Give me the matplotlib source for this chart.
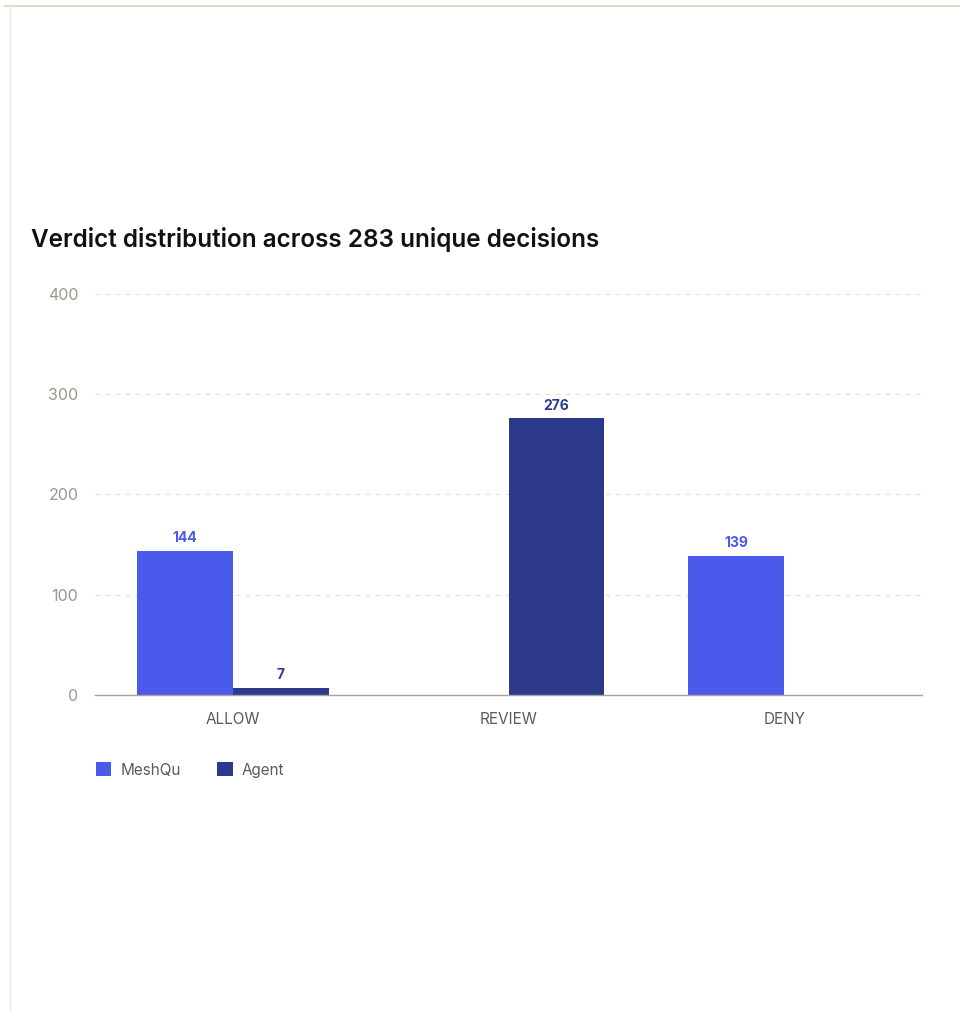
import matplotlib
matplotlib.use("Agg")
import matplotlib.pyplot as plt
from matplotlib.lines import Line2D
from matplotlib.patches import Patch
import numpy as np

plt.rcParams['font.family'] = ['Inter', 'DejaVu Sans']

categories = ['ALLOW', 'REVIEW', 'DENY']
meshqu = [144, 0, 139]
agent = [7, 276, 0]
series_names = ['MeshQu', 'Agent']
colors = ['#4a5bec', '#2d3a8c']
yticks = [0, 100, 200, 300, 400]

fig = plt.figure(figsize=(9.6, 10.11), dpi=100)
ax = fig.add_axes([0.099, 0.3126, 0.8615, 0.3966])

x = np.arange(len(categories))
w = 0.348
for vals, off, c in [(meshqu, -w / 2, colors[0]), (agent, w / 2, colors[1])]:
    bars = ax.bar(x + off, vals, width=w, color=c, zorder=3)
    for b, v in zip(bars, vals):
        if v > 0:
            ax.annotate(str(v), (b.get_x() + b.get_width() / 2, v), xytext=(0, 4),
                        textcoords='offset points', ha='center', va='bottom',
                        fontsize=10, fontweight='bold', color=c)

ax.set_xlim(-0.5, 2.5)
ax.set_ylim(0, 400)
ax.set_yticks(yticks)
ax.set_xticks(x)
ax.set_xticklabels(categories)
ax.tick_params(axis='y', length=0, pad=12, labelsize=11.5, labelcolor='#9a968a')
ax.tick_params(axis='x', length=0, pad=12, labelsize=11, labelcolor='#5f5b52')
ax.grid(axis='y', color='#e6e3da', linestyle=(0, (4, 4)), linewidth=0.9, zorder=0)
for s in ['top', 'right', 'left']:
    ax.spines[s].set_visible(False)
ax.spines['bottom'].set_color('#a9a598')
ax.spines['bottom'].set_linewidth(1.0)
ax.spines['bottom'].set_zorder(4)

fig.text(31 / 960, 1 - 240 / 1011, 'Verdict distribution across 283 unique decisions',
         fontsize=17.5, fontweight='semibold', color='#111111', va='center', ha='left')

handles = [Patch(facecolor=c, edgecolor='none') for c in colors]
fig.legend(handles, series_names, loc='center left', bbox_to_anchor=(82 / 960, 1 - 770 / 1011),
           ncol=2, frameon=False, fontsize=11, handlelength=1.0, handleheight=1.0,
           handletextpad=0.6, columnspacing=2.4, labelcolor='#5f5b52')

# frame lines of the card
fig.add_artist(Line2D([5 / 960, 1], [1 - 6 / 1011, 1 - 6 / 1011], color='#d8d3c2', lw=1.2))
fig.add_artist(Line2D([10 / 960, 10 / 960], [0, 1 - 6 / 1011], color='#ebe9e3', lw=1.0))

fig.savefig('out.png', dpi=100)
